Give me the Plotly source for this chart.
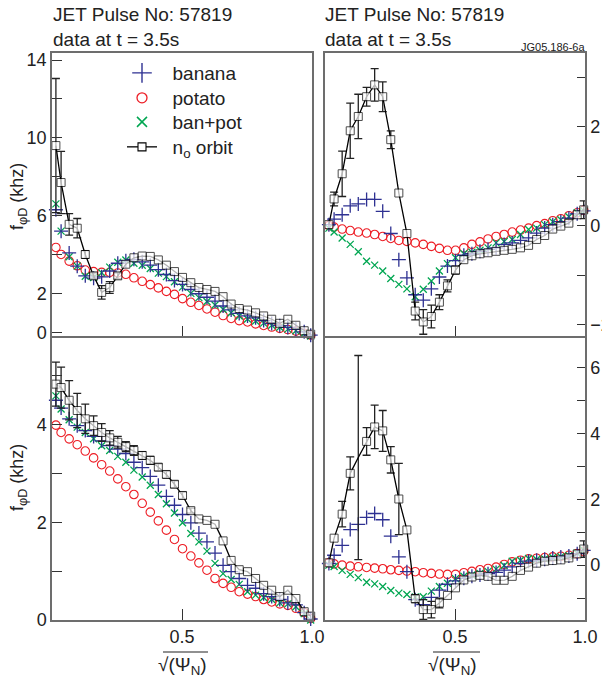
import plotly.graph_objects as go

# ---------------- data ----------------
X = [0.015, 0.035, 0.066, 0.097, 0.128, 0.16, 0.191, 0.222, 0.253, 0.284, 0.315,
     0.347, 0.378, 0.409, 0.44, 0.471, 0.502, 0.534, 0.565, 0.596, 0.627, 0.658,
     0.689, 0.72, 0.752, 0.783, 0.814, 0.845, 0.876, 0.907, 0.938, 0.97, 0.995]

banana_tl = [6.3, 5.2, 4.08, 3.4, 2.9, 2.78, 2.85, 3.15, 3.55, 3.68, 3.75, 3.62, 3.45, 3.22, 2.97, 2.66,
             2.46, 2.2, 1.98, 1.8, 1.6, 1.35, 1.15, 0.97, 0.84, 0.74, 0.6, 0.45, 0.34, 0.25, 0.15, 0.02, -0.15]
potato_tl = [4.36, 4.0, 3.66, 3.42, 3.2, 3.12, 3.08, 3.08, 3.05, 2.98, 2.8, 2.62, 2.45, 2.28, 2.1, 1.95,
             1.73, 1.54, 1.38, 1.2, 1.03, 0.86, 0.71, 0.6, 0.53, 0.43, 0.35, 0.27, 0.2, 0.14, 0.06, -0.05, -0.15]
banpot_tl = [6.6, 5.2, 3.88, 3.4, 2.88, 2.82, 3.06, 3.35, 3.6, 3.72, 3.55, 3.45, 3.28, 3.04, 2.86, 2.6,
             2.32, 2.0, 1.78, 1.58, 1.4, 1.18, 1.0, 0.84, 0.68, 0.58, 0.47, 0.36, 0.26, 0.16, 0.08, -0.05, -0.2]
orbit_tl = [9.6, 7.7, 5.55, 5.35, 4.0, 2.9, 2.05, 2.3, 2.9, 3.5, 3.83, 3.92, 3.9, 3.72, 3.45, 3.12,
            2.82, 2.55, 2.3, 2.2, 2.1, 1.83, 1.45, 1.22, 1.14, 1.0, 0.84, 0.67, 0.46, 0.67, 0.36, 0.08, -0.1]
orbit_tl_err = [3.45, 1.6, 0.55, 0.5, 0.2, 0.15, 0.35, 0.3, 0.15] + [None] * 24

banana_tr = [0.02, 0.13, 0.22, 0.4, 0.44, 0.53, 0.53, 0.29, -0.16, -0.69, -1.06, -1.4, -1.51, -1.28, -1.04, -0.82,
             -0.71, -0.6, -0.57, -0.52, -0.48, -0.45, -0.38, -0.35, -0.3, -0.25, -0.15, -0.05, 0.02, 0.08, 0.15, 0.24, 0.3]
potato_tr = [0.0, -0.03, -0.07, -0.1, -0.13, -0.15, -0.18, -0.22, -0.26, -0.3, -0.32, -0.35, -0.38, -0.42, -0.46, -0.5,
             -0.5, -0.45, -0.38, -0.33, -0.27, -0.22, -0.18, -0.13, -0.09, -0.05, 0.0, 0.04, 0.1, 0.14, 0.2, 0.26, 0.31]
banpot_tr = [-0.05, -0.13, -0.25, -0.38, -0.53, -0.72, -0.8, -0.92, -1.07, -1.19, -1.28, -1.44, -1.29, -1.12, -0.92, -0.77,
             -0.65, -0.57, -0.54, -0.5, -0.45, -0.35, -0.32, -0.28, -0.18, -0.08, -0.05, 0.02, 0.08, 0.12, 0.18, 0.26, 0.3]
orbit_tr = [0.02, 0.54, 1.05, 1.92, 2.21, 2.61, 2.85, 2.61, 1.74, 0.66, -0.16, -1.73, -1.95, -1.84, -1.55, -1.22,
            -0.9, -0.69, -0.61, -0.57, -0.55, -0.52, -0.5, -0.48, -0.45, -0.4, -0.28, -0.2, -0.07, -0.01, 0.05, 0.22, 0.32]
orbit_tr_err = [None, 0.14, 0.46, 0.56, 0.45, 0.19, 0.33, 0.3, 0.18, None, None, 0.18, 0.25, 0.23, 0.15, 0.12,
                0.08] + [None] * 15 + [0.18]

banana_bl = [4.5, 4.34, 4.12, 3.98, 3.88, 3.76, 3.67, 3.57, 3.5, 3.41, 3.23, 3.12, 2.94, 2.76, 2.53, 2.35,
             2.16, 1.99, 1.78, 1.6, 1.37, 1.12, 0.99, 0.85, 0.71, 0.65, 0.54, 0.48, 0.42, 0.35, 0.31, 0.15, 0.02]
potato_bl = [3.99, 3.84, 3.71, 3.59, 3.46, 3.32, 3.18, 3.05, 2.89, 2.73, 2.57, 2.39, 2.21, 2.03, 1.84, 1.65,
             1.46, 1.31, 1.17, 1.02, 0.85, 0.75, 0.67, 0.58, 0.53, 0.48, 0.42, 0.37, 0.33, 0.3, 0.24, 0.15, 0.03]
banpot_bl = [4.59, 4.32, 4.1, 3.95, 3.84, 3.71, 3.57, 3.47, 3.35, 3.23, 3.07, 2.93, 2.76, 2.57, 2.38, 2.19,
             1.99, 1.77, 1.6, 1.41, 1.16, 0.95, 0.83, 0.73, 0.58, 0.51, 0.46, 0.42, 0.35, 0.33, 0.27, 0.13, 0.0]
orbit_bl = [4.83, 4.76, 4.5, 4.29, 4.12, 3.98, 3.84, 3.73, 3.64, 3.55, 3.47, 3.37, 3.27, 3.13, 2.98, 2.78,
            2.55, 2.24, 2.07, 2.04, 1.96, 1.62, 1.22, 1.03, 0.99, 0.85, 0.71, 0.61, 0.48, 0.61, 0.44, 0.17, 0.08]
orbit_bl_err = [0.45, 0.42, 0.4, 0.35, 0.3, 0.2, 0.18, 0.15, 0.12, 0.1, 0.1, 0.08, 0.08, 0.07, 0.07, 0.07,
                0.07, 0.05] + [None] * 15

banana_br = [0.05, 0.3, 0.6, 1.08, 1.24, 1.45, 1.57, 1.38, 0.88, 0.25, -0.2, -1.05, -1.2, -0.98, -0.76, -0.58,
             -0.48, -0.4, -0.34, -0.3, -0.26, -0.22, -0.15, -0.05, 0.05, 0.12, 0.15, 0.18, 0.22, 0.25, 0.28, 0.35, 0.45]
potato_br = [0.07, 0.04, 0.0, -0.03, -0.05, -0.07, -0.09, -0.11, -0.14, -0.16, -0.18, -0.2, -0.23, -0.25, -0.27, -0.28,
             -0.28, -0.23, -0.19, -0.14, -0.1, -0.06, 0.02, 0.1, 0.15, 0.19, 0.21, 0.23, 0.25, 0.27, 0.3, 0.35, 0.42]
banpot_br = [0.0, -0.04, -0.16, -0.28, -0.38, -0.52, -0.57, -0.65, -0.77, -0.85, -0.89, -0.97, -0.96, -0.79, -0.65, -0.55,
             -0.41, -0.34, -0.3, -0.25, -0.19, -0.12, -0.01, 0.12, 0.15, 0.2, 0.17, 0.19, 0.23, 0.26, 0.29, 0.36, 0.46]
orbit_br = [0.07, 0.82, 1.55, 2.79, 3.27, 3.76, 4.2, 4.08, 3.2, 2.01, 1.07, -1.02, -1.35, -1.35, -1.15, -0.92,
            -0.69, -0.45, -0.36, -0.31, -0.34, -0.46, -0.46, -0.34, -0.16, -0.06, 0.06, 0.12, 0.14, 0.16, 0.22, 0.34, 0.49]
orbit_br_err = [None, None, 0.39, 0.5, 3.1, 0.42, 0.66, 0.62, 0.4, 1.08, None, 0.12, 0.3, 0.25, 0.15] + [None] * 17 + [0.25]
orbit_br_hidden = [4]   # point drawn without its square in the original

legend_names = ["banana", "potato", "ban+pot", "n<sub>o</sub> orbit"]
title_lines = ["JET Pulse No: 57819", "data at t = 3.5s"]
y_title = "f<sub>φD</sub> (khz)"
x_title = "√(Ψ<sub>N</sub>)"

# tick values (major = labelled, minor = unlabelled)
x_ticks = [0.5, 1.0]
x_ticklabels = ["0.5", "1.0"]
tl_major, tl_minor = [0, 2, 6, 10, 14], [4, 8, 12]
tr_major, tr_minor = [-2, 0, 2], [-1, 1, 3]
bl_major, bl_minor = [0, 2, 4], [1, 3, 5]
br_major, br_minor = [0, 2, 4, 6], [-1, 1, 3, 5]

# ---------------- style ----------------
W, H = 602, 683
FONT = "Liberation Sans, Arial, sans-serif"
BLUE, RED, GREEN, BLACK = "#2e3192", "#ed1c24", "#00a651", "#000000"
FRAME = "#6d6d6d"
LW = 1.5

def px_x(p):
    return p / W

def px_y(p):
    return 1 - p / H

XL = [px_x(52), px_x(312)]
XR = [px_x(325), px_x(585)]
# top/bottom frames share one line at y=337
YT = [px_y(337 - LW / 2), px_y(53)]
YB = [px_y(620), px_y(337 + LW / 2)]

fig = go.Figure()

panels = [
    ("x", "y", banana_tl, potato_tl, banpot_tl, orbit_tl, orbit_tl_err, []),
    ("x2", "y2", banana_tr, potato_tr, banpot_tr, orbit_tr, orbit_tr_err, []),
    ("x3", "y3", banana_bl, potato_bl, banpot_bl, orbit_bl, orbit_bl_err, []),
    ("x4", "y4", banana_br, potato_br, banpot_br, orbit_br, orbit_br_err, orbit_br_hidden),
]

for xa, ya, ban, pot, bp, orb, err, hidden in panels:
    fig.add_trace(go.Scatter(x=X, y=pot, xaxis=xa, yaxis=ya, mode="markers", showlegend=False,
                             cliponaxis=False,
                             marker=dict(symbol="circle-open", size=8.5, color=RED, line=dict(width=1.1, color=RED))))
    fig.add_trace(go.Scatter(x=X, y=bp, xaxis=xa, yaxis=ya, mode="markers", showlegend=False,
                             cliponaxis=False,
                             marker=dict(symbol="x-thin-open", size=7, color=GREEN, line=dict(width=1.3, color=GREEN))))
    fig.add_trace(go.Scatter(x=X, y=ban, xaxis=xa, yaxis=ya, mode="markers", showlegend=False,
                             cliponaxis=False,
                             marker=dict(symbol="cross-thin-open", size=10, color=BLUE, line=dict(width=1.3, color=BLUE))))
    ex = [X[i] for i in range(len(X)) if err[i] is not None]
    ey = [orb[i] for i in range(len(X)) if err[i] is not None]
    ee = [err[i] for i in range(len(X)) if err[i] is not None]
    fig.add_trace(go.Scatter(x=ex, y=ey, xaxis=xa, yaxis=ya, mode="markers", showlegend=False,
                             cliponaxis=False,
                             marker=dict(size=1, color="rgba(0,0,0,0)"),
                             error_y=dict(type="data", array=ee, visible=True, color="#222",
                                          thickness=1.3, width=4)))
    sizes = [0 if i in hidden else 8 for i in range(len(X))]
    fig.add_trace(go.Scatter(x=X, y=orb, xaxis=xa, yaxis=ya, mode="lines+markers", showlegend=False,
                             cliponaxis=False, line=dict(color=BLACK, width=1.3),
                             marker=dict(symbol="square", size=sizes, color="white",
                                         line=dict(width=1.0, color=BLACK))))

# legend-only traces (one small legend per entry, to match the key's spacing)
NB = "\u00a0\u00a0"
legend_keys = ["legend", "legend2", "legend3", "legend4"]
legend_markers = [
    dict(symbol="cross-thin-open", size=14, color=BLUE, line=dict(width=1.4, color=BLUE)),
    dict(symbol="circle-open", size=10, color=RED, line=dict(width=1.3, color=RED)),
    dict(symbol="x-thin-open", size=10, color=GREEN, line=dict(width=1.5, color=GREEN)),
    dict(symbol="square", size=8, color="white", line=dict(width=1.1, color=BLACK)),
]
for i in range(4):
    fig.add_trace(go.Scatter(x=[None], y=[None], mode="lines+markers" if i == 3 else "markers",
                             name=NB + legend_names[i], legend=legend_keys[i],
                             line=dict(color=BLACK, width=1.3), marker=legend_markers[i]))

tickfont = dict(family=FONT, size=18, color="#222")
common_x = dict(range=[0, 1], showgrid=False, zeroline=False, showline=True, mirror=True,
                linecolor=FRAME, linewidth=LW, ticks="inside", ticklen=11, tickwidth=1.2,
                tickcolor="#333", tickvals=x_ticks, ticktext=x_ticklabels, tickfont=tickfont)
common_y = dict(showgrid=False, zeroline=False, showline=True, mirror=True,
                linecolor=FRAME, linewidth=LW, ticks="inside", tickwidth=1.2,
                tickcolor="#333", tickfont=tickfont)

def minor(vals, ln):
    return dict(tickvals=vals, ticks="inside", ticklen=ln, tickwidth=1.2, tickcolor="#333", showgrid=False)

leg_rows = [73, 98, 122, 147]
leg_common = dict(bgcolor="rgba(0,0,0,0)", font=dict(family=FONT, size=19, color="#222"),
                  xanchor="left", yanchor="middle")

fig.update_layout(
    width=W, height=H, margin=dict(l=0, r=0, t=0, b=0, pad=0, autoexpand=False),
    paper_bgcolor="white", plot_bgcolor="white",
    font=dict(family=FONT, size=18, color="#222"),
    xaxis=dict(common_x, domain=XL, anchor="y", showticklabels=False),
    xaxis2=dict(common_x, domain=XR, anchor="y2", showticklabels=False),
    xaxis3=dict(common_x, domain=XL, anchor="y3"),
    xaxis4=dict(common_x, domain=XR, anchor="y4"),
    yaxis=dict(common_y, domain=YT, anchor="x", range=[-0.205, 14.36], ticklen=10,
               tickvals=tl_major, ticktext=[str(v) for v in tl_major], minor=minor(tl_minor, 10)),
    yaxis2=dict(common_y, domain=YT, anchor="x2", side="right", range=[-2.24, 3.495], ticklen=8,
                tickvals=tr_major, ticktext=[str(v).replace("-", "−") for v in tr_major],
                minor=minor(tr_minor, 8)),
    yaxis3=dict(common_y, domain=YB, anchor="x3", range=[0, 5.78], ticklen=10,
                tickvals=bl_major, ticktext=[str(v) for v in bl_major], minor=minor(bl_minor, 10)),
    yaxis4=dict(common_y, domain=YB, anchor="x4", side="right", range=[-1.667, 6.91], ticklen=8,
                tickvals=br_major, ticktext=[str(v) for v in br_major], minor=minor(br_minor, 8)),
    legend=dict(leg_common, x=px_x(122), y=px_y(leg_rows[0])),
    legend2=dict(leg_common, x=px_x(122), y=px_y(leg_rows[1])),
    legend3=dict(leg_common, x=px_x(122), y=px_y(leg_rows[2])),
    legend4=dict(leg_common, x=px_x(122), y=px_y(leg_rows[3])),
)

ann = []
for x0 in (53, 325):
    ann.append(dict(text=title_lines[0], x=px_x(x0 - 2), y=px_y(15), xref="paper", yref="paper",
                    xanchor="left", yanchor="middle", showarrow=False,
                    font=dict(family=FONT, size=19, color="#222")))
    ann.append(dict(text=title_lines[1], x=px_x(x0 - 2), y=px_y(39.5), xref="paper", yref="paper",
                    xanchor="left", yanchor="middle", showarrow=False,
                    font=dict(family=FONT, size=19, color="#222")))
ann.append(dict(text="JG05.186-6a", x=px_x(587), y=px_y(47), xref="paper", yref="paper",
                xanchor="right", yanchor="middle", showarrow=False,
                font=dict(family=FONT, size=11, color="#222")))
for yc in (197, 478):
    ann.append(dict(text=y_title, x=px_x(18), y=px_y(yc), xref="paper", yref="paper",
                    xanchor="center", yanchor="middle", showarrow=False, textangle=-90,
                    font=dict(family=FONT, size=18, color="#222")))
for xc in (182, 452):
    ann.append(dict(text=x_title, x=px_x(xc), y=px_y(666), xref="paper", yref="paper",
                    xanchor="center", yanchor="middle", showarrow=False,
                    font=dict(family=FONT, size=19, color="#222")))
fig.update_layout(annotations=ann)

# vinculum of the square-root sign
shapes = []
for x1, x2 in ((163, 208), (433, 480)):
    shapes.append(dict(type="line", xref="paper", yref="paper", x0=px_x(x1), x1=px_x(x2),
                       y0=px_y(652), y1=px_y(652), line=dict(color="#222", width=1.2)))
fig.update_layout(shapes=shapes)

post = ("document.documentElement.style.margin='0';document.documentElement.style.padding='0';"
        "document.documentElement.style.overflow='hidden';"
        "document.body.style.margin='0';document.body.style.padding='0';document.body.style.overflow='hidden';")
fig.write_html("out.html", config={"responsive": False}, post_script=post)
